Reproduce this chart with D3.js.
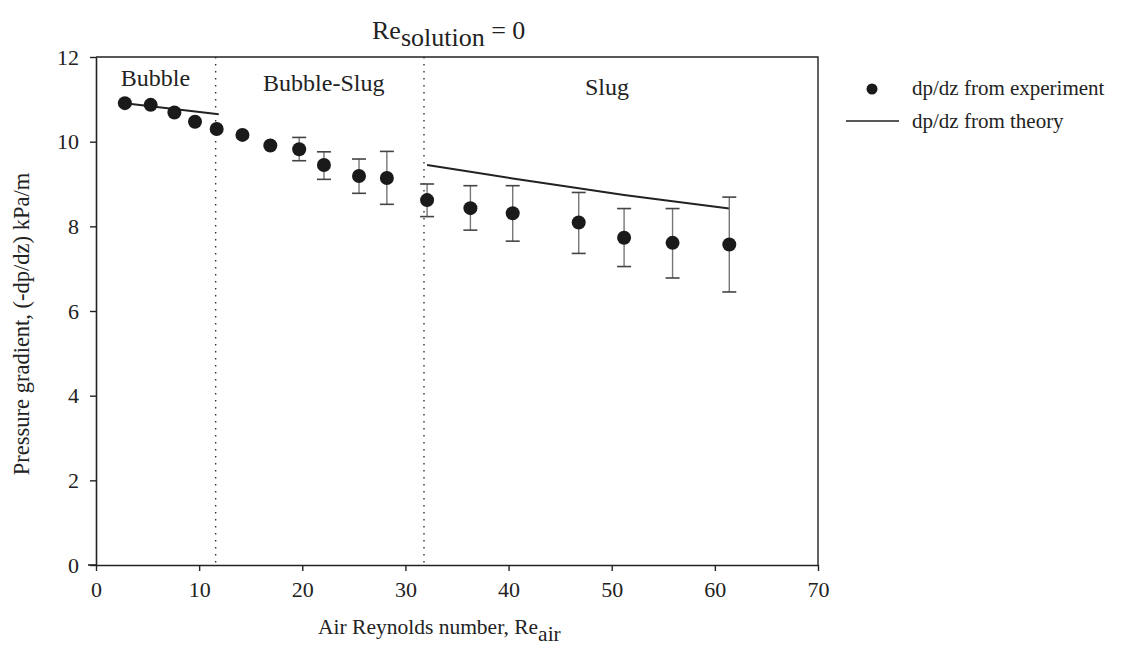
<!DOCTYPE html>
<html><head><meta charset="utf-8">
<script src="https://cdn.jsdelivr.net/npm/d3@7"></script>
<style>
body{margin:0;background:#fff;}
svg{display:block;}
text{font-family:"Liberation Serif","Times New Roman",serif;fill:#222;}
</style></head>
<body><svg id="c" width="1141" height="658"></svg>
<script>
// data
const expX   = [2.8, 5.3, 7.6, 9.6, 11.7, 14.2, 16.9, 19.7, 22.1, 25.5, 28.2, 32.1, 36.3, 40.4, 46.8, 51.2, 55.9, 61.4];
const expY   = [10.91, 10.87, 10.69, 10.47, 10.30, 10.16, 9.91, 9.82, 9.45, 9.19, 9.14, 8.62, 8.43, 8.31, 8.09, 7.73, 7.61, 7.57];
const errHi  = [null, null, null, null, null, null, null, 10.10, 9.76, 9.59, 9.77, 9.00, 8.96, 8.96, 8.80, 8.42, 8.42, 8.69];
const errLo  = [null, null, null, null, null, null, null, 9.55, 9.11, 8.78, 8.52, 8.23, 7.91, 7.65, 7.36, 7.05, 6.78, 6.45];
const theoryBubbleX = [2.8, 11.9];
const theoryBubbleY = [10.91, 10.65];
const theorySlugX = [32.1, 36.3, 40.4, 46.8, 51.2, 55.9, 61.4];
const theorySlugY = [9.45, 9.29, 9.13, 8.90, 8.74, 8.59, 8.42];
const regimeBounds = [11.6, 31.8];
const regimeLabels = ["Bubble", "Bubble-Slug", "Slug"];
const regimeLabelX = [2.4, 16.2, 47.4];
const xTicks = [0, 10, 20, 30, 40, 50, 60, 70];
const yTicks = [0, 2, 4, 6, 8, 10, 12];
const legendLabels = ["dp/dz from experiment", "dp/dz from theory"];

const svg = d3.select("#c");
const L = 96, R = 818, T = 57, B = 565;
const x = d3.scaleLinear().domain([0, 70]).range([L, R]);
const y = d3.scaleLinear().domain([0, 12]).range([B, T]);
const ink = "#222";

// frame (top & right)
svg.append("path").attr("d", `M${L},${T}H${R}V${B}`).attr("fill","none").attr("stroke",ink).attr("stroke-width",1.4);

// axes
const xa = svg.append("g").attr("transform", `translate(0,${B})`)
  .call(d3.axisBottom(x).tickValues(xTicks).tickSize(6).tickSizeOuter(0).tickPadding(10));
const ya = svg.append("g").attr("transform", `translate(${L},0)`)
  .call(d3.axisLeft(y).tickValues(yTicks).tickSize(6).tickSizeOuter(0).tickPadding(11));
[xa, ya].forEach(g => {
  g.select(".domain").attr("stroke", ink).attr("stroke-width", 1.6);
  g.selectAll(".tick line").attr("stroke", ink).attr("stroke-width", 1.4);
  g.selectAll(".tick text").attr("font-family", "Liberation Serif").attr("font-size", 22).attr("fill", ink);
});
svg.append("line").attr("x1", L-8).attr("x2", L).attr("y1", B).attr("y2", B).attr("stroke", ink).attr("stroke-width",1.6);

// regime boundaries
svg.selectAll(".bound").data(regimeBounds).enter().append("line")
  .attr("x1", d => x(d)).attr("x2", d => x(d)).attr("y1", T).attr("y2", B)
  .attr("stroke", "#333").attr("stroke-width", 1.4).attr("stroke-dasharray", "1.4,5.6");

// regime labels
svg.selectAll(".rl").data(regimeLabels).enter().append("text")
  .attr("x", (d,i) => x(regimeLabelX[i])).attr("y", (d,i) => [86, 91, 95][i])
  .attr("font-size", 24).text(d => d);

// theory lines
const line = d3.line().x(d => x(d[0])).y(d => y(d[1]));
[[theoryBubbleX, theoryBubbleY], [theorySlugX, theorySlugY]].forEach(([xs, ys]) => {
  svg.append("path").datum(xs.map((v,i) => [v, ys[i]]))
    .attr("d", line).attr("fill","none").attr("stroke", ink).attr("stroke-width", 2);
});

// error bars
const eb = expX.map((v,i) => ({x:v, hi:errHi[i], lo:errLo[i]})).filter(d => d.hi !== null);
const ebg = svg.append("g");
ebg.selectAll(".ev").data(eb).enter().append("line")
  .attr("x1", d => x(d.x)).attr("x2", d => x(d.x)).attr("y1", d => y(d.hi)).attr("y2", d => y(d.lo))
  .attr("stroke", "#777").attr("stroke-width", 1.4);
["hi","lo"].forEach(k => {
  ebg.selectAll(".c"+k).data(eb).enter().append("line")
    .attr("x1", d => x(d.x)-7).attr("x2", d => x(d.x)+7).attr("y1", d => y(d[k])).attr("y2", d => y(d[k]))
    .attr("stroke", "#444").attr("stroke-width", 1.6);
});

// experiment points
svg.selectAll(".pt").data(expX.map((v,i) => [v, expY[i]])).enter().append("circle")
  .attr("cx", d => x(d[0])).attr("cy", d => y(d[1])).attr("r", 7).attr("fill", "#1a1a1a");

// title
const title = svg.append("text").attr("x", 372).attr("y", 39)
  .attr("font-family", "Open Sans").attr("font-size", 26).attr("fill", ink);
title.append("tspan").text("Re");
title.append("tspan").attr("dy", 7).text("solution");
title.append("tspan").attr("dy", -7).text(" = 0");

// x label
const xl = svg.append("text").attr("x", 318).attr("y", 634).attr("font-size", 21.5);
xl.append("tspan").text("Air Reynolds number, Re");
xl.append("tspan").attr("dy", 7).text("air");

// y label
svg.append("text").attr("transform", `translate(29,324) rotate(-90)`)
  .attr("text-anchor","middle").attr("font-size", 22.5)
  .text("Pressure gradient, (-dp/dz) kPa/m");

// legend
svg.append("circle").attr("cx", 872).attr("cy", 89).attr("r", 5.5).attr("fill", "#1a1a1a");
svg.append("line").attr("x1", 846).attr("x2", 899).attr("y1", 121).attr("y2", 121).attr("stroke", ink).attr("stroke-width", 1.5);
svg.selectAll(".lg").data(legendLabels).enter().append("text")
  .attr("x", 912).attr("y", (d,i) => 95 + i*33).attr("font-size", 21).text(d => d);
</script>
</body></html>
